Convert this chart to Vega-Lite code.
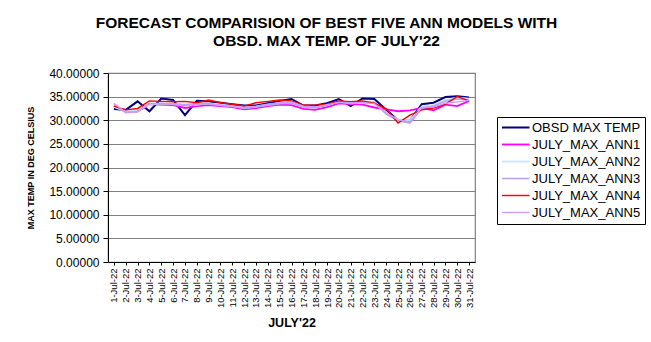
{
  "$schema": "https://vega.github.io/schema/vega-lite/v6.json",
  "width": 367,
  "height": 189,
  "autosize": "none",
  "padding": {"left": 108, "top": 73, "right": 176, "bottom": 80},
  "background": "white",
  "title": {
    "text": ["FORECAST COMPARISION OF BEST FIVE ANN MODELS WITH", "OBSD. MAX TEMP. OF JULY'22"],
    "font": "Liberation Sans",
    "fontSize": 15.5,
    "fontWeight": "bold",
    "color": "black",
    "lineHeight": 18,
    "anchor": "middle",
    "dx": 35,
    "offset": 18
  },
  "data": {
    "values": [
      {"date": "1-Jul-22", "OBSD MAX TEMP": 32.4, "JULY_MAX_ANN1": 33.0, "JULY_MAX_ANN2": 32.8, "JULY_MAX_ANN3": 33.4, "JULY_MAX_ANN4": 33.0, "JULY_MAX_ANN5": 33.6},
      {"date": "2-Jul-22", "OBSD MAX TEMP": 32.2, "JULY_MAX_ANN1": 31.8, "JULY_MAX_ANN2": 31.9, "JULY_MAX_ANN3": 31.6, "JULY_MAX_ANN4": 32.2, "JULY_MAX_ANN5": 31.7},
      {"date": "3-Jul-22", "OBSD MAX TEMP": 34.0, "JULY_MAX_ANN1": 31.9, "JULY_MAX_ANN2": 32.2, "JULY_MAX_ANN3": 31.8, "JULY_MAX_ANN4": 32.5, "JULY_MAX_ANN5": 31.9},
      {"date": "4-Jul-22", "OBSD MAX TEMP": 31.9, "JULY_MAX_ANN1": 33.4, "JULY_MAX_ANN2": 33.3, "JULY_MAX_ANN3": 33.6, "JULY_MAX_ANN4": 34.1, "JULY_MAX_ANN5": 33.5},
      {"date": "5-Jul-22", "OBSD MAX TEMP": 34.6, "JULY_MAX_ANN1": 33.3, "JULY_MAX_ANN2": 33.5, "JULY_MAX_ANN3": 33.4, "JULY_MAX_ANN4": 34.0, "JULY_MAX_ANN5": 33.6},
      {"date": "6-Jul-22", "OBSD MAX TEMP": 34.3, "JULY_MAX_ANN1": 33.2, "JULY_MAX_ANN2": 33.4, "JULY_MAX_ANN3": 33.5, "JULY_MAX_ANN4": 33.9, "JULY_MAX_ANN5": 33.3},
      {"date": "7-Jul-22", "OBSD MAX TEMP": 31.1, "JULY_MAX_ANN1": 32.6, "JULY_MAX_ANN2": 33.2, "JULY_MAX_ANN3": 33.3, "JULY_MAX_ANN4": 34.0, "JULY_MAX_ANN5": 33.1},
      {"date": "8-Jul-22", "OBSD MAX TEMP": 34.1, "JULY_MAX_ANN1": 33.0, "JULY_MAX_ANN2": 33.3, "JULY_MAX_ANN3": 33.5, "JULY_MAX_ANN4": 33.7, "JULY_MAX_ANN5": 33.4},
      {"date": "9-Jul-22", "OBSD MAX TEMP": 34.0, "JULY_MAX_ANN1": 33.2, "JULY_MAX_ANN2": 33.5, "JULY_MAX_ANN3": 33.4, "JULY_MAX_ANN4": 34.3, "JULY_MAX_ANN5": 33.6},
      {"date": "10-Jul-22", "OBSD MAX TEMP": 33.7, "JULY_MAX_ANN1": 33.0, "JULY_MAX_ANN2": 33.3, "JULY_MAX_ANN3": 33.2, "JULY_MAX_ANN4": 33.7, "JULY_MAX_ANN5": 33.1},
      {"date": "11-Jul-22", "OBSD MAX TEMP": 33.4, "JULY_MAX_ANN1": 32.8, "JULY_MAX_ANN2": 33.0, "JULY_MAX_ANN3": 33.0, "JULY_MAX_ANN4": 33.4, "JULY_MAX_ANN5": 32.9},
      {"date": "12-Jul-22", "OBSD MAX TEMP": 33.1, "JULY_MAX_ANN1": 32.3, "JULY_MAX_ANN2": 32.6, "JULY_MAX_ANN3": 32.5, "JULY_MAX_ANN4": 33.0, "JULY_MAX_ANN5": 32.7},
      {"date": "13-Jul-22", "OBSD MAX TEMP": 33.1, "JULY_MAX_ANN1": 32.6, "JULY_MAX_ANN2": 32.9, "JULY_MAX_ANN3": 32.8, "JULY_MAX_ANN4": 33.7, "JULY_MAX_ANN5": 33.0},
      {"date": "14-Jul-22", "OBSD MAX TEMP": 33.6, "JULY_MAX_ANN1": 33.0, "JULY_MAX_ANN2": 33.3, "JULY_MAX_ANN3": 33.2, "JULY_MAX_ANN4": 34.0, "JULY_MAX_ANN5": 33.4},
      {"date": "15-Jul-22", "OBSD MAX TEMP": 34.1, "JULY_MAX_ANN1": 33.3, "JULY_MAX_ANN2": 33.6, "JULY_MAX_ANN3": 33.5, "JULY_MAX_ANN4": 34.3, "JULY_MAX_ANN5": 33.7},
      {"date": "16-Jul-22", "OBSD MAX TEMP": 34.5, "JULY_MAX_ANN1": 33.2, "JULY_MAX_ANN2": 33.8, "JULY_MAX_ANN3": 33.6, "JULY_MAX_ANN4": 34.1, "JULY_MAX_ANN5": 33.9},
      {"date": "17-Jul-22", "OBSD MAX TEMP": 33.1, "JULY_MAX_ANN1": 32.4, "JULY_MAX_ANN2": 32.9, "JULY_MAX_ANN3": 32.8, "JULY_MAX_ANN4": 33.2, "JULY_MAX_ANN5": 33.0},
      {"date": "18-Jul-22", "OBSD MAX TEMP": 33.1, "JULY_MAX_ANN1": 32.2, "JULY_MAX_ANN2": 32.7, "JULY_MAX_ANN3": 32.6, "JULY_MAX_ANN4": 33.2, "JULY_MAX_ANN5": 32.8},
      {"date": "19-Jul-22", "OBSD MAX TEMP": 33.6, "JULY_MAX_ANN1": 32.8, "JULY_MAX_ANN2": 33.2, "JULY_MAX_ANN3": 33.1, "JULY_MAX_ANN4": 33.4, "JULY_MAX_ANN5": 33.3},
      {"date": "20-Jul-22", "OBSD MAX TEMP": 34.5, "JULY_MAX_ANN1": 33.6, "JULY_MAX_ANN2": 33.9, "JULY_MAX_ANN3": 34.0, "JULY_MAX_ANN4": 34.1, "JULY_MAX_ANN5": 33.8},
      {"date": "21-Jul-22", "OBSD MAX TEMP": 33.0, "JULY_MAX_ANN1": 33.4, "JULY_MAX_ANN2": 33.6, "JULY_MAX_ANN3": 33.5, "JULY_MAX_ANN4": 33.9, "JULY_MAX_ANN5": 33.7},
      {"date": "22-Jul-22", "OBSD MAX TEMP": 34.6, "JULY_MAX_ANN1": 33.3, "JULY_MAX_ANN2": 33.8, "JULY_MAX_ANN3": 33.9, "JULY_MAX_ANN4": 34.1, "JULY_MAX_ANN5": 33.7},
      {"date": "23-Jul-22", "OBSD MAX TEMP": 34.5, "JULY_MAX_ANN1": 32.7, "JULY_MAX_ANN2": 33.6, "JULY_MAX_ANN3": 33.8, "JULY_MAX_ANN4": 33.6, "JULY_MAX_ANN5": 33.5},
      {"date": "24-Jul-22", "OBSD MAX TEMP": 32.2, "JULY_MAX_ANN1": 32.3, "JULY_MAX_ANN2": 31.5, "JULY_MAX_ANN3": 31.3, "JULY_MAX_ANN4": 32.4, "JULY_MAX_ANN5": 31.6},
      {"date": "25-Jul-22", "OBSD MAX TEMP": 30.0, "JULY_MAX_ANN1": 31.9, "JULY_MAX_ANN2": 30.2, "JULY_MAX_ANN3": 29.9, "JULY_MAX_ANN4": 29.4, "JULY_MAX_ANN5": 30.1},
      {"date": "26-Jul-22", "OBSD MAX TEMP": 29.9, "JULY_MAX_ANN1": 32.1, "JULY_MAX_ANN2": 30.0, "JULY_MAX_ANN3": 29.4, "JULY_MAX_ANN4": 31.1, "JULY_MAX_ANN5": 29.6},
      {"date": "27-Jul-22", "OBSD MAX TEMP": 33.4, "JULY_MAX_ANN1": 32.6, "JULY_MAX_ANN2": 32.9, "JULY_MAX_ANN3": 32.5, "JULY_MAX_ANN4": 32.2, "JULY_MAX_ANN5": 32.7},
      {"date": "28-Jul-22", "OBSD MAX TEMP": 33.7, "JULY_MAX_ANN1": 32.1, "JULY_MAX_ANN2": 33.2, "JULY_MAX_ANN3": 33.0, "JULY_MAX_ANN4": 32.6, "JULY_MAX_ANN5": 32.8},
      {"date": "29-Jul-22", "OBSD MAX TEMP": 34.9, "JULY_MAX_ANN1": 33.3, "JULY_MAX_ANN2": 34.3, "JULY_MAX_ANN3": 34.0, "JULY_MAX_ANN4": 33.4, "JULY_MAX_ANN5": 33.6},
      {"date": "30-Jul-22", "OBSD MAX TEMP": 35.1, "JULY_MAX_ANN1": 33.0, "JULY_MAX_ANN2": 34.8, "JULY_MAX_ANN3": 34.5, "JULY_MAX_ANN4": 35.0, "JULY_MAX_ANN5": 33.9},
      {"date": "31-Jul-22", "OBSD MAX TEMP": 34.8, "JULY_MAX_ANN1": 34.1, "JULY_MAX_ANN2": 34.6, "JULY_MAX_ANN3": 34.3, "JULY_MAX_ANN4": 34.1, "JULY_MAX_ANN5": 34.2}
    ]
  },
  "transform": [
    {"fold": ["OBSD MAX TEMP", "JULY_MAX_ANN1", "JULY_MAX_ANN2", "JULY_MAX_ANN3", "JULY_MAX_ANN4", "JULY_MAX_ANN5"], "as": ["series", "value"]}
  ],
  "mark": {"type": "line", "clip": false},
  "encoding": {
    "x": {
      "field": "date",
      "type": "ordinal",
      "sort": null,
      "scale": {"type": "point", "padding": 0.5},
      "axis": {
        "title": "JULY'22",
        "titleFont": "Liberation Sans",
        "titleFontSize": 12.5,
        "titleFontWeight": "bold",
        "titleColor": "black",
        "titlePadding": 9,
        "labelAngle": 270,
        "labelFont": "Liberation Sans",
        "labelFontSize": 9.5,
        "labelColor": "black",
        "labelPadding": 3,
        "tickColor": "black",
        "tickSize": 3,
        "domainColor": "black",
        "grid": false
      }
    },
    "y": {
      "field": "value",
      "type": "quantitative",
      "scale": {"domain": [0, 40], "nice": false, "zero": true},
      "axis": {
        "title": "MAX TEMP IN DEG CELSIUS",
        "titleFont": "Liberation Sans",
        "titleFontSize": 9,
        "titleFontWeight": "bold",
        "titleColor": "black",
        "titlePadding": 13,
        "values": [0, 5, 10, 15, 20, 25, 30, 35, 40],
        "format": ".5f",
        "labelFont": "Liberation Sans",
        "labelFontSize": 12,
        "labelColor": "black",
        "labelPadding": 4,
        "tickColor": "black",
        "tickSize": 5,
        "domainColor": "black",
        "grid": true,
        "gridColor": "#808080",
        "gridWidth": 1.2,
        "gridOpacity": 1
      }
    },
    "color": {
      "field": "series",
      "type": "nominal",
      "scale": {
        "domain": ["OBSD MAX TEMP", "JULY_MAX_ANN1", "JULY_MAX_ANN2", "JULY_MAX_ANN3", "JULY_MAX_ANN4", "JULY_MAX_ANN5"],
        "range": ["#000080", "#FF00FF", "#C6E4FA", "#C0A2EC", "#FF0000", "#CC99FF"]
      },
      "legend": {
        "title": null,
        "orient": "none",
        "legendX": 389,
        "legendY": 44,
        "strokeColor": "black",
        "fillColor": "white",
        "padding": 4,
        "symbolType": "M-1,0H4",
        "symbolSize": 121,
        "labelFont": "Liberation Sans",
        "labelFontSize": 13,
        "labelColor": "black",
        "labelOffset": 18,
        "rowPadding": 3,
        "labelLimit": 200
      }
    },
    "strokeWidth": {
      "field": "series",
      "type": "nominal",
      "scale": {
        "domain": ["OBSD MAX TEMP", "JULY_MAX_ANN1", "JULY_MAX_ANN2", "JULY_MAX_ANN3", "JULY_MAX_ANN4", "JULY_MAX_ANN5"],
        "range": [2, 1.3, 2, 1, 2.5, 1]
      },
      "legend": null
    }
  },
  "config": {
    "view": {"stroke": "#808080", "strokeWidth": 1.2},
    "font": "Liberation Sans"
  }
}
